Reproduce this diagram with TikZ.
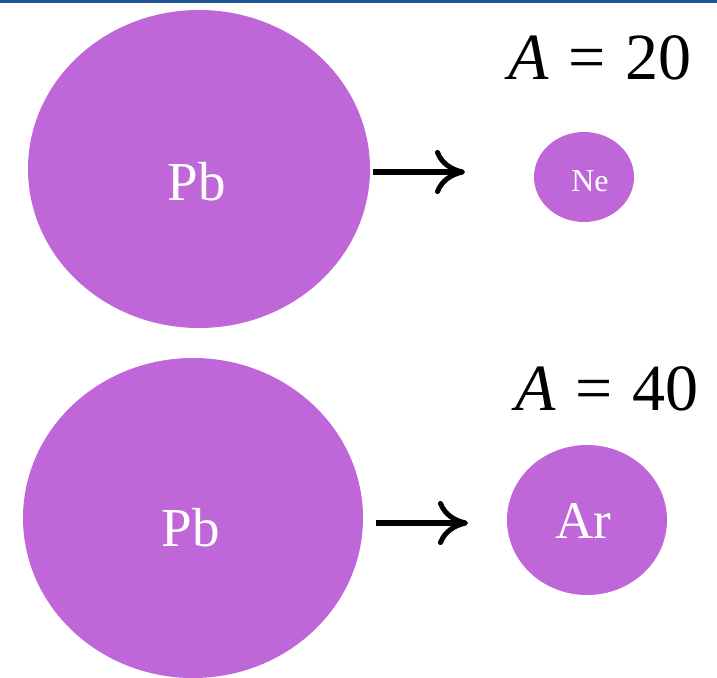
\documentclass[tikz,border=0pt]{standalone}
\usepackage{fontspec}
\setmainfont{Liberation Serif}
\usetikzlibrary{arrows.meta}
\definecolor{atom}{RGB}{191,103,217}
\definecolor{topbar}{RGB}{31,85,150}
\begin{document}
\begin{tikzpicture}[x=1pt,y=-1pt,
  atomlabel/.style={text=white, inner sep=0pt},
  reacarrow/.style={line width=6pt, -{Computer Modern Rightarrow[length=30pt,width=44pt,line width=5pt]}},
  masslabel/.style={font=\fontsize{66}{70}\selectfont, anchor=center, inner sep=0pt}]
\useasboundingbox (0,0) rectangle (717,677);
\fill[topbar] (0,0) rectangle (717,3);
% top row
\fill[atom] (199,169) ellipse [x radius=171, y radius=159];
\node[atomlabel, font=\fontsize{55}{60}\selectfont] (pb1) at (197,182) {Pb};
\fill[atom] (584,177) ellipse [x radius=50, y radius=45];
\node[atomlabel, font=\fontsize{32}{36}\selectfont] (ne) at (590,181) {Ne};
\coordinate (a1s) at (373,172);
\coordinate (a1e) at (465,172);
\draw[reacarrow] (a1s) -- (a1e);
\node[masslabel] (m1) at (600,58) {\textit{A}\hspace{0.3em}=\hspace{0.3em}20};
% bottom row
\fill[atom] (193,518) ellipse [x radius=170, y radius=160];
\node[atomlabel, font=\fontsize{55}{60}\selectfont] (pb2) at (191,528) {Pb};
\fill[atom] (587,520) ellipse [x radius=80, y radius=75];
\node[atomlabel, font=\fontsize{53}{58}\selectfont] (ar) at (583,521) {Ar};
\coordinate (a2s) at (376,523);
\coordinate (a2e) at (468,523);
\draw[reacarrow] (a2s) -- (a2e);
\node[masslabel] (m2) at (607,389) {\textit{A}\hspace{0.3em}=\hspace{0.3em}40};
\end{tikzpicture}
\end{document}
